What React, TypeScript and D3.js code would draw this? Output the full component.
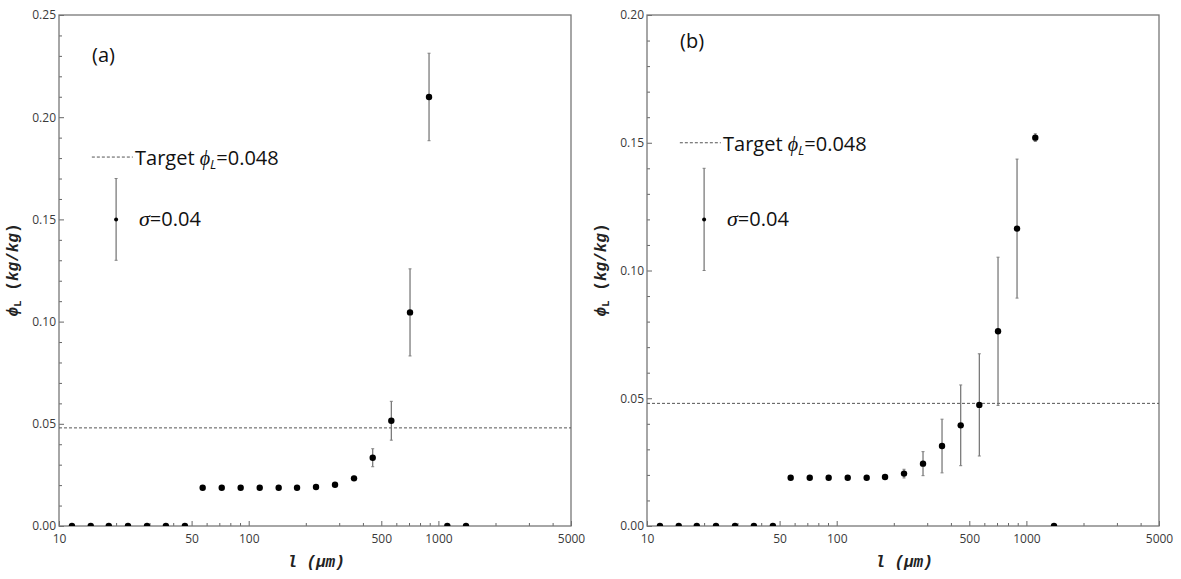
import React, { useEffect, useRef } from "react";
import * as d3 from "d3";

// particle size l (µm), same bins in both panels
const sizes = [
  11.7, 14.7, 18.3, 23.1, 29.1, 36.6, 46.1, 57.2, 72.1, 90.7, 114.3, 143.9,
  179.8, 226.4, 285.1, 359.1, 450.5, 564.7, 708.6, 892.5, 1114, 1398,
];

// panel (a)
const phiA = [
  0, 0, 0, 0, 0, 0, 0, 0.0187, 0.0187, 0.0187, 0.0187, 0.0187, 0.0187, 0.0191,
  0.0202, 0.0233, 0.0334, 0.0515, 0.1045, 0.2099, 0, 0,
];
const errA = [
  0, 0, 0, 0, 0, 0, 0, 0, 0, 0, 0, 0, 0, 0.0003, 0.0005, 0.001, 0.0044, 0.0095,
  0.0213, 0.0214, 0, 0,
];

// panel (b)
const phiB = [
  0, 0, 0, 0, 0, 0, 0, 0.0189, 0.0189, 0.0189, 0.0189, 0.0189, 0.0192, 0.0205,
  0.0244, 0.0313, 0.0394, 0.0474, 0.0762, 0.1164, 0.152, 0,
];
const errB = [
  0, 0, 0, 0, 0, 0, 0, 0, 0, 0, 0, 0, 0.0003, 0.0017, 0.0047, 0.0105, 0.0158,
  0.02, 0.029, 0.0272, 0.0015, 0,
];

const xTicks = [10, 50, 100, 500, 1000, 5000];
const yTicksA = [0, 0.05, 0.1, 0.15, 0.2, 0.25];
const yTicksB = [0, 0.05, 0.1, 0.15, 0.2];
const target = 0.048;
const sigma = 0.04;

const drawPanel = (svg, o) => {
  const width = 512;
  const height = 511;
  const x = d3.scaleLog().domain([10, 5000]).range([0, width]);
  const y = d3.scaleLinear().domain([0, o.yMax]).range([height, 0]);

  const g = svg.append("g").attr("transform", `translate(${o.left},15)`);

  g.append("clipPath")
    .attr("id", o.id)
    .append("rect")
    .attr("width", width)
    .attr("height", height);

  const minorX = [];
  [10, 100, 1000].forEach((d) => {
    for (let m = 2; m <= 9; m++) {
      const v = m * d;
      if (v < 5000 && !xTicks.includes(v)) minorX.push(v);
    }
  });
  const minorY = d3
    .range(0, o.yMax + 0.0001, 0.01)
    .filter((v) => Math.abs(v * 20 - Math.round(v * 20)) > 0.01);

  const tickFont = (sel) =>
    sel
      .selectAll("text")
      .attr("font-family", "Open Sans")
      .attr("font-size", 12)
      .attr("fill", "#3a3a3a");

  g.append("g")
    .attr("transform", `translate(0,${height})`)
    .call(d3.axisBottom(x).tickValues(minorX).tickFormat("").tickSize(-3))
    .call((a) => a.select(".domain").remove());
  g.append("g")
    .attr("transform", `translate(0,${height})`)
    .call(
      d3
        .axisBottom(x)
        .tickValues(xTicks)
        .tickFormat(d3.format("d"))
        .tickSizeInner(-5)
        .tickSizeOuter(0)
        .tickPadding(8)
    )
    .call((a) => a.select(".domain").remove())
    .call(tickFont);

  g.append("g")
    .call(d3.axisLeft(y).tickValues(minorY).tickFormat("").tickSize(-3))
    .call((a) => a.select(".domain").remove());
  g.append("g")
    .call(
      d3
        .axisLeft(y)
        .tickValues(o.yTicks)
        .tickFormat(d3.format(".2f"))
        .tickSizeInner(-5)
        .tickSizeOuter(0)
        .tickPadding(3)
    )
    .call((a) => a.select(".domain").remove())
    .call(tickFont);

  g.selectAll(".tick line").attr("stroke", "#666");

  g.append("rect")
    .attr("width", width)
    .attr("height", height)
    .attr("fill", "none")
    .attr("stroke", "#777")
    .attr("stroke-width", 1.3);

  // target line
  g.append("line")
    .attr("x1", 0)
    .attr("x2", width)
    .attr("y1", y(target))
    .attr("y2", y(target))
    .attr("stroke", "#555")
    .attr("stroke-dasharray", "3,2");

  const pts = sizes.map((s, i) => ({ s, v: o.phi[i], e: o.err[i] }));
  const plot = g.append("g").attr("clip-path", `url(#${o.id})`);

  const bars = pts.filter((d) => d.e > 0);
  plot
    .selectAll(".eb")
    .data(bars)
    .join("line")
    .attr("x1", (d) => x(d.s))
    .attr("x2", (d) => x(d.s))
    .attr("y1", (d) => y(d.v - d.e))
    .attr("y2", (d) => y(d.v + d.e))
    .attr("stroke", "#707070")
    .attr("stroke-width", 1.2);
  bars.forEach((d) => {
    [d.v - d.e, d.v + d.e].forEach((v) => {
      plot
        .append("line")
        .attr("x1", x(d.s) - 1.5)
        .attr("x2", x(d.s) + 1.5)
        .attr("y1", y(v))
        .attr("y2", y(v))
        .attr("stroke", "#808080");
    });
  });

  plot
    .selectAll(".pt")
    .data(pts)
    .join("circle")
    .attr("cx", (d) => x(d.s))
    .attr("cy", (d) => y(d.v))
    .attr("r", 3.2)
    .attr("fill", "#000");

  // panel tag
  g.append("text")
    .attr("x", 33)
    .attr("y", o.tagY)
    .attr("font-family", "Open Sans")
    .attr("font-size", 20)
    .attr("fill", "#111")
    .text(o.tag);

  // legend: target line
  const ly = y(o.legendLine);
  g.append("line")
    .attr("x1", x(14.9))
    .attr("x2", x(24.5))
    .attr("y1", ly)
    .attr("y2", ly)
    .attr("stroke", "#555")
    .attr("stroke-dasharray", "3,2");
  const t = g
    .append("text")
    .attr("x", 76)
    .attr("y", ly + 8)
    .attr("font-family", "Open Sans")
    .attr("font-size", 20)
    .attr("fill", "#111");
  t.append("tspan").text("Target ");
  t.append("tspan").attr("font-style", "italic").text("ϕ");
  t.append("tspan")
    .attr("font-style", "italic")
    .attr("font-size", 13)
    .attr("dy", 4)
    .text("L");
  t.append("tspan").attr("dy", -4).text("=0.048");

  // legend: sigma bar
  const by = o.legendBar;
  g.append("line")
    .attr("x1", x(20))
    .attr("x2", x(20))
    .attr("y1", y(by - sigma / 2))
    .attr("y2", y(by + sigma / 2))
    .attr("stroke", "#707070")
    .attr("stroke-width", 1.2);
  [by - sigma / 2, by + sigma / 2].forEach((v) =>
    g
      .append("line")
      .attr("x1", x(20) - 1.5)
      .attr("x2", x(20) + 1.5)
      .attr("y1", y(v))
      .attr("y2", y(v))
      .attr("stroke", "#808080")
  );
  g.append("circle")
    .attr("cx", x(20))
    .attr("cy", y(by))
    .attr("r", 2)
    .attr("fill", "#000");
  const st = g
    .append("text")
    .attr("x", 80)
    .attr("y", y(by) + 7)
    .attr("font-family", "Open Sans")
    .attr("font-size", 20)
    .attr("fill", "#111");
  st.append("tspan")
    .attr("font-family", "Liberation Serif")
    .attr("font-style", "italic")
    .attr("font-size", 22)
    .text("σ");
  st.append("tspan").text("=0.04");

  // axis titles
  const xl = g
    .append("text")
    .attr("x", width / 2 + 1)
    .attr("y", height + 41)
    .attr("text-anchor", "middle")
    .attr("font-family", "Liberation Mono")
    .attr("font-weight", "bold")
    .attr("font-style", "italic")
    .attr("font-size", 16)
    .attr("fill", "#222");
  xl.append("tspan").text("l");
  xl.append("tspan").text(" (μm)");

  const yl = g
    .append("text")
    .attr("transform", `translate(${-41},${255}) rotate(-90)`)
    .attr("text-anchor", "middle")
    .attr("font-family", "Liberation Mono")
    .attr("font-weight", "bold")
    .attr("font-size", 16)
    .attr("fill", "#222");
  yl.append("tspan").attr("font-style", "italic").text("ϕ");
  yl.append("tspan").attr("font-size", 11).attr("dy", 3).text("L");
  yl.append("tspan").attr("dy", -3).text(" (");
  yl.append("tspan").attr("font-style", "italic").text("kg");
  yl.append("tspan").text("/");
  yl.append("tspan").attr("font-style", "italic").text("kg");
  yl.append("tspan").text(")");
};

const App = () => {
  const svgRef = useRef();

  useEffect(() => {
    const svg = d3.select(svgRef.current);
    svg.selectAll("*").remove();
    drawPanel(svg, {
      id: "clipA",
      left: 59,
      yMax: 0.25,
      yTicks: yTicksA,
      phi: phiA,
      err: errA,
      tag: "(a)",
      tagY: 47,
      legendLine: 0.1805,
      legendBar: 0.15,
    });
    drawPanel(svg, {
      id: "clipB",
      left: 647,
      yMax: 0.2,
      yTicks: yTicksB,
      phi: phiB,
      err: errB,
      tag: "(b)",
      tagY: 33,
      legendLine: 0.15,
      legendBar: 0.12,
    });
  }, []);

  return (
    <svg
      ref={svgRef}
      width={1181}
      height={579}
      style={{ position: "absolute", left: 0, top: 0, background: "#fff" }}
    ></svg>
  );
};

export default App;
